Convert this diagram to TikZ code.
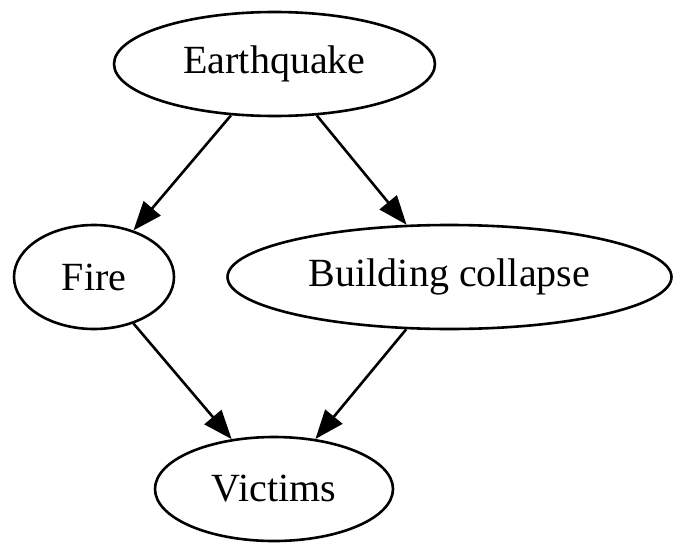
\documentclass[tikz,border=0pt]{standalone}
\usepackage{fontspec}
\setmainfont{Liberation Serif}
\usetikzlibrary{shapes.geometric,arrows.meta}

\begin{document}
\begin{tikzpicture}[x=1pt, y=-1pt,
    event/.style={draw, ellipse, line width=2.6pt, inner sep=0pt,
        minimum height=104pt, font=\fontsize{40}{46}\selectfont},
    cause/.style={-{Triangle[length=29pt, width=22pt]}, line width=2.6pt}]
    \useasboundingbox (0,0) rectangle (674,543);

    % Nodes
    \node[event, minimum width=321pt] (quake) at (274.5,64) {Earthquake};
    \node[event, minimum width=160pt] (fire) at (94,277) {Fire};
    \node[event, minimum width=444pt] (collapse) at (449.5,277) {Building collapse};
    \node[event, minimum width=238pt] (victims) at (274,489) {Victims};

    % Edges
    \draw[cause] (quake) -- (fire);
    \draw[cause] (quake) -- (collapse);
    \draw[cause] (fire) -- (victims);
    \draw[cause] (collapse) -- (victims);
\end{tikzpicture}
\end{document}
